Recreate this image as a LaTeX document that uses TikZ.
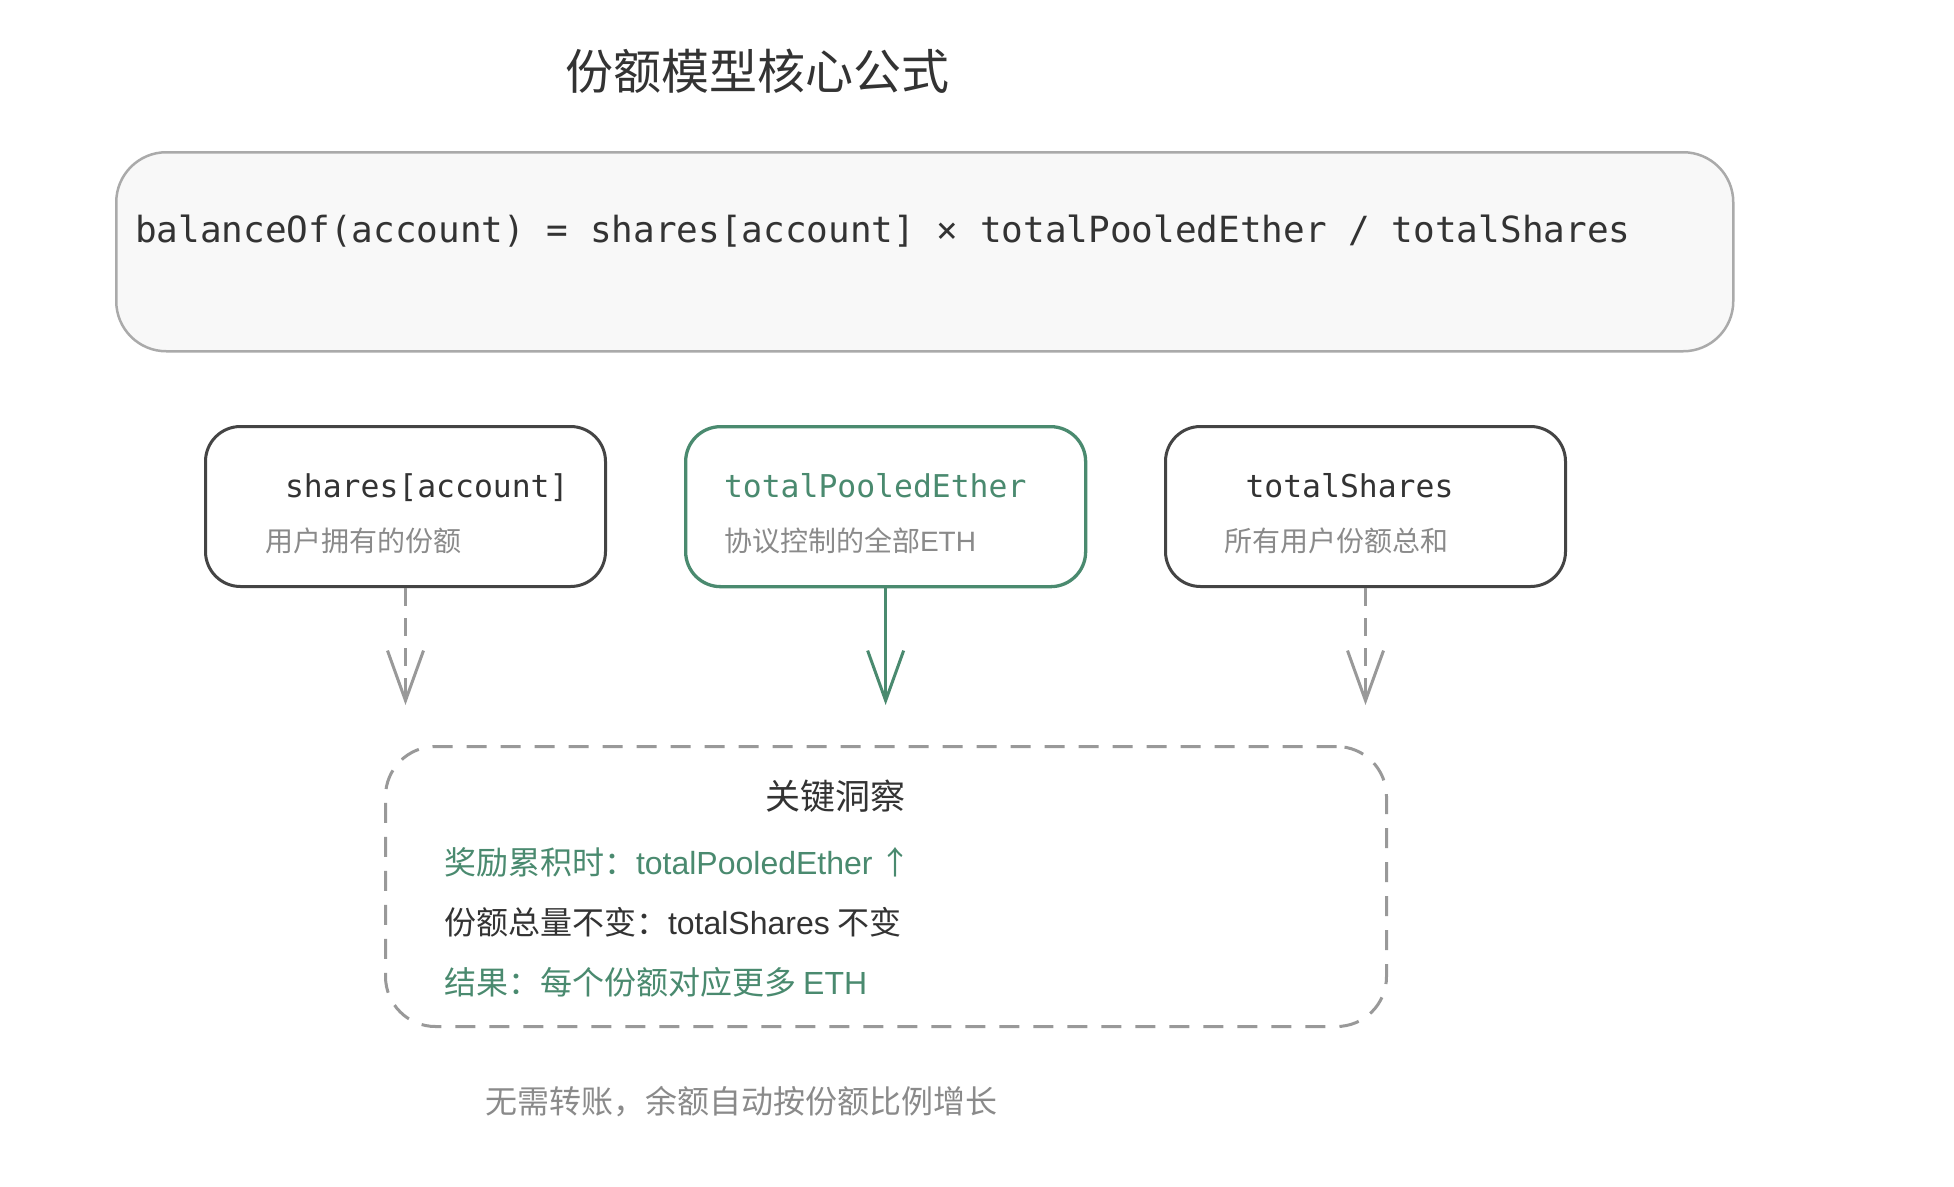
\documentclass[tikz,border=0pt]{standalone}
\usepackage{fontspec}
\setmainfont{Noto Sans CJK SC}
\newfontfamily\monof{DejaVu Sans Mono}
\newfontfamily\latf{Liberation Sans}
\newcommand{\lat}[1]{{\latf #1}}
\usetikzlibrary{arrows.meta}
\definecolor{ink}{HTML}{333333}
\definecolor{greenc}{HTML}{4A8A6F}
\definecolor{subg}{HTML}{8A8A8A}
\definecolor{edge}{HTML}{444444}
\definecolor{fedge}{HTML}{AAAAAA}
\definecolor{ffill}{HTML}{F8F8F8}
\definecolor{conn}{HTML}{999999}
\tikzset{
  fs/.style={font=\fontsize{#1}{#1}\selectfont},
  txt/.style={inner sep=0pt, outer sep=0pt},
  card/.style={draw=edge, line width=3pt, rounded corners=35pt, minimum width=400pt, minimum height=160pt, anchor=north west, inner sep=0pt},
  tip/.style={-{Straight Barb[length=50pt, width=36pt, line width=3pt]}},
  dashconn/.style={draw=conn, line width=3pt, dash pattern=on 18pt off 12pt, tip},
  solidconn/.style={draw=greenc, line width=3.3pt, tip},
}
\begin{document}
\begin{tikzpicture}[x=1pt, y=-1pt]
\useasboundingbox[fill=white] (0,0) rectangle (1954,1186);

% title
\node[txt, anchor=west, text=ink, fs=48] (title) at (565,71) {份额模型核心公式};

% formula box
\node[draw=fedge, fill=ffill, line width=2.5pt, rounded corners=50pt, minimum width=1617pt, minimum height=199pt, anchor=north west, inner sep=0pt] (formula) at (115,151) {};
\node[txt, anchor=base west, text=ink, font=\monof\fontsize{36}{36}\selectfont] (ftext) at (135,242) {balanceOf(account) = shares[account] × totalPooledEther / totalShares};

% three cards
\node[card] (b1) at (204,425) {};
\node[card, draw=greenc, line width=3.3pt] (b2) at (684,425) {};
\node[card] (b3) at (1164,425) {};

\node[txt, anchor=base west, text=ink, font=\monof\fontsize{31.4}{31.4}\selectfont] (b1t) at (285,497) {shares[account]};
\node[txt, anchor=base west, text=greenc, font=\monof\fontsize{31.4}{31.4}\selectfont] (b2t) at (724,497) {totalPooledEther};
\node[txt, anchor=base west, text=ink, font=\monof\fontsize{31.4}{31.4}\selectfont] (b3t) at (1245.5,497) {totalShares};

\node[txt, anchor=west, text=subg, fs=28] (b1s) at (265,540.5) {用户拥有的份额};
\node[txt, anchor=west, text=subg, fs=28] (b2s) at (724,540.5) {协议控制的全部\lat{ETH}};
\node[txt, anchor=west, text=subg, fs=28] (b3s) at (1224.5,540.5) {所有用户份额总和};

% arrow ends
\coordinate (t1) at (b1.south |- 0,705);
\coordinate (t2) at (b2.south |- 0,705);
\coordinate (t3) at (b3.south |- 0,705);
\draw[dashconn] (b1.south) -- (t1);
\draw[solidconn] (b2.south) -- (t2);
\draw[dashconn] (b3.south) -- (t3);

% insight box
\node[draw=conn, line width=3pt, dash pattern=on 20pt off 14pt, rounded corners=50pt, minimum width=1001pt, minimum height=280pt, anchor=north west, inner sep=0pt] (insight) at (384,745) {};
\node[txt, anchor=center, text=ink, fs=35] (ititle) at (835,796) {关键洞察};
\node[txt, anchor=west, text=greenc, fs=32] (l1) at (444,862) {奖励累积时：\lat{totalPooledEther} ↑};
\node[txt, anchor=west, text=ink, fs=32] (l2) at (444,922) {份额总量不变：\lat{totalShares} 不变};
\node[txt, anchor=west, text=greenc, fs=32] (l3) at (444,982) {结果：每个份额对应更多 \lat{ETH}};

% footer
\node[txt, anchor=west, text=subg, fs=32] (foot) at (485,1102) {无需转账，余额自动按份额比例增长};
\end{tikzpicture}
\end{document}
